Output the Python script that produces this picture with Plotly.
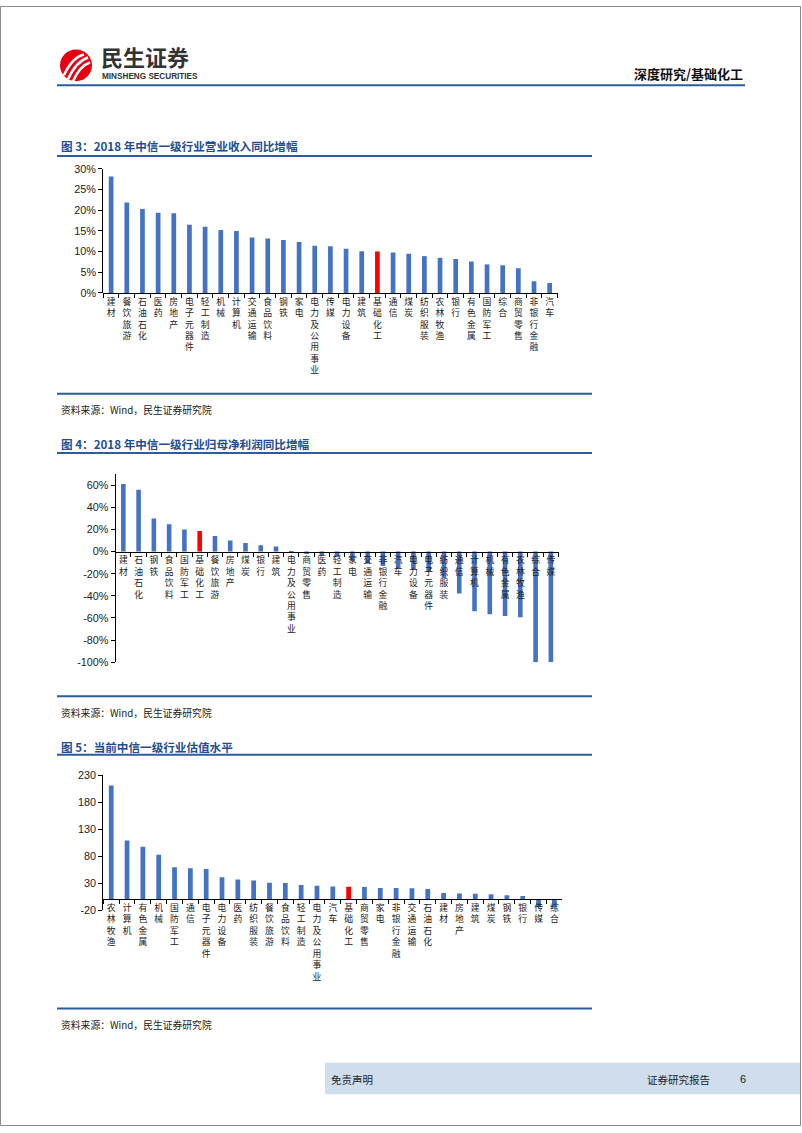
import plotly.graph_objects as go

# ---------------- data ----------------
cats1 = ["建材", "餐饮旅游", "石油石化", "医药", "房地产", "电子元器件", "轻工制造", "机械", "计算机",
         "交通运输", "食品饮料", "钢铁", "家电", "电力及公用事业", "传媒", "电力设备", "建筑", "基础化工",
         "通信", "煤炭", "纺织服装", "农林牧渔", "银行", "有色金属", "国防军工", "综合", "商贸零售",
         "非银行金融", "汽车"]
vals1 = [28.2, 21.9, 20.3, 19.4, 19.3, 16.5, 16.0, 15.2, 15.0, 13.4, 13.2, 12.8, 12.3, 11.4, 11.3,
         10.7, 10.1, 10.0, 9.8, 9.5, 8.9, 8.5, 8.2, 7.6, 6.9, 6.7, 6.0, 2.8, 2.4]

cats2 = ["建材", "石油石化", "钢铁", "食品饮料", "国防军工", "基础化工", "餐饮旅游", "房地产", "煤炭",
         "银行", "建筑", "电力及公用事业", "商贸零售", "医药", "轻工制造", "家电", "交通运输", "非银行金融",
         "汽车", "电力设备", "电子元器件", "纺织服装", "通信", "计算机", "机械", "有色金属", "农林牧渔",
         "综合", "传媒"]
vals2 = [61.0, 55.8, 29.9, 24.8, 20.0, 18.5, 14.0, 10.1, 7.8, 5.7, 4.5, -0.5, -2.1, -3.9, -4.8, -8.0,
         -11.0, -13.0, -15.0, -16.0, -18.0, -24.0, -37.9, -54.0, -56.7, -58.2, -59.4, -100.0, -100.0]

cats3 = ["农林牧渔", "计算机", "有色金属", "机械", "国防军工", "通信", "电子元器件", "电力设备", "医药",
         "纺织服装", "餐饮旅游", "食品饮料", "轻工制造", "电力及公用事业", "汽车", "基础化工", "商贸零售",
         "家电", "非银行金融", "交通运输", "石油石化", "建材", "房地产", "建筑", "煤炭", "钢铁", "银行",
         "传媒", "综合"]
vals3 = [210.9, 108.8, 97.2, 82.5, 59.3, 57.5, 56.2, 40.9, 36.7, 34.8, 30.6, 30.0, 26.3, 25.0, 23.8,
         23.2, 22.6, 20.9, 20.8, 20.2, 19.0, 11.6, 10.4, 10.3, 9.2, 7.3, 6.1, -15.0, -16.0]

highlight = "基础化工"

y1_ticks = [0, 5, 10, 15, 20, 25, 30]
y2_ticks = [-100, -80, -60, -40, -20, 0, 20, 40, 60]
y3_ticks = [-20, 30, 80, 130, 180, 230]

titles = ["图 3：2018 年中信一级行业营业收入同比增幅",
          "图 4：2018 年中信一级行业归母净利润同比增幅",
          "图 5：当前中信一级行业估值水平"]
source = "资料来源：Wind，民生证券研究院"

# ---------------- helpers ----------------
W, H = 802, 1133
def fx(x):
    return x / W
def fy(y):
    return 1 - y / H

BLUE = "#4472C4"
RED = "#FF0000"
LINE_BLUE = "#2F5C9E"
TITLE_BLUE = "#1F4E93"
CJK = "Noto Sans CJK SC"
NUM = "Liberation Sans, Arial, sans-serif"

def vlabel(s):
    return "<br>".join(list(s))

fig = go.Figure()

charts = [
    dict(cats=cats1, vals=vals1, ticks=y1_ticks, rng=[0, 30], suffix="%",
         xdom=(103.3, 557.5), ytop=164.7, ybot=290.0),
    dict(cats=cats2, vals=vals2, ticks=y2_ticks, rng=[-100, 70], suffix="%",
         xdom=(115.7, 558.5), ytop=473.1, ybot=663.3),
    dict(cats=cats3, vals=vals3, ticks=y3_ticks, rng=[-20, 230], suffix="",
         xdom=(103.3, 562.3), ytop=777.3, ybot=913.7),
]

layout_axes = {}
for i, c in enumerate(charts, start=1):
    sx = "" if i == 1 else str(i)
    colors = [RED if k == highlight else BLUE for k in c["cats"]]
    fig.add_trace(go.Bar(x=c["cats"], y=c["vals"], marker=dict(color=colors, line=dict(width=0)),
                         xaxis="x" + sx, yaxis="y" + sx, showlegend=False, hoverinfo="x+y"))
    ydom = [fy(c["ybot"]), fy(c["ytop"])]
    r0, r1 = c["rng"]
    pos0 = ydom[0] + (0 - r0) / (r1 - r0) * (ydom[1] - ydom[0])
    layout_axes["xaxis" + sx] = dict(
        domain=[fx(c["xdom"][0]), fx(c["xdom"][1])],
        anchor="free", position=pos0,
        type="category", categoryorder="array", categoryarray=c["cats"],
        tickmode="array", tickvals=c["cats"], ticktext=[vlabel(k) for k in c["cats"]],
        tickson="boundaries", ticks="outside", ticklen=4, tickwidth=1, tickcolor="#000",
        tickangle=0, tickfont=dict(family=CJK, size=8.8, color="#222"),
        showline=True, linecolor="#000", linewidth=1.3, showgrid=False, zeroline=False,
        fixedrange=True,
    )
    layout_axes["yaxis" + sx] = dict(
        domain=ydom, anchor="x" + sx, range=c["rng"],
        tickmode="array", tickvals=c["ticks"], ticktext=[f"{v}{c['suffix']}" for v in c["ticks"]],
        ticks="outside", ticklen=4, tickwidth=1, tickcolor="#000",
        tickfont=dict(family=NUM, size=10.8, color="#222"),
        showline=True, linecolor="#000", linewidth=1.3, showgrid=False, zeroline=False,
        fixedrange=True,
    )

shapes = []
annotations = []

# page border
shapes.append(dict(type="rect", xref="paper", yref="paper", x0=fx(0.5), x1=fx(800.5),
                   y0=fy(1131.5), y1=fy(0.5), line=dict(color="#8a8a8a", width=1), layer="below"))

# header
shapes.append(dict(type="line", xref="paper", yref="paper", x0=fx(57), x1=fx(745), y0=fy(80), y1=fy(80),
                   line=dict(color=LINE_BLUE, width=2)))
# logo circle
shapes.append(dict(type="circle", xref="paper", yref="paper", x0=fx(60), x1=fx(92), y0=fy(76), y1=fy(44),
                   fillcolor="#E60012", line=dict(width=0)))
for (a, b, cx, cy, d, e) in [(64, 70, 72, 52, 84, 49), (68, 74, 76, 56, 88, 52), (73, 76, 80, 60, 90, 57)]:
    path = f"M {fx(a)},{fy(b)} Q {fx(cx)},{fy(cy)} {fx(d)},{fy(e)}"
    shapes.append(dict(type="path", xref="paper", yref="paper", path=path,
                       line=dict(color="white", width=2.6)))
annotations.append(dict(text="<b>民生证券</b>", x=fx(98.5), y=fy(51), xref="paper", yref="paper",
                        xanchor="left", yanchor="middle", showarrow=False,
                        font=dict(family=CJK, size=22, color="#333333")))
annotations.append(dict(text="<b>MINSHENG SECURITIES</b>", x=fx(100), y=fy(71.5), xref="paper", yref="paper",
                        xanchor="left", yanchor="middle", showarrow=False,
                        font=dict(family="Liberation Sans, Arial", size=8.2, color="#333333")))
annotations.append(dict(text="<b>深度研究/基础化工</b>", x=fx(745), y=fy(68), xref="paper", yref="paper",
                        xanchor="right", yanchor="middle", showarrow=False,
                        font=dict(family=CJK, size=13, color="#111111")))

# chart frames (title, top line, bottom line, source)
frames = [(141, 151.7, 392, 408), (443, 451.7, 697.7, 714.5), (748.5, 756.7, 1013.3, 1030)]
for t, (ty, tl, bl, sy) in zip(titles, frames):
    annotations.append(dict(text="<b>" + t + "</b>", x=fx(59), y=fy(ty), xref="paper", yref="paper",
                            xanchor="left", yanchor="middle", showarrow=False,
                            font=dict(family=CJK, size=11.6, color=TITLE_BLUE)))
    shapes.append(dict(type="line", xref="paper", yref="paper", x0=fx(57), x1=fx(592), y0=fy(tl), y1=fy(tl),
                       line=dict(color=LINE_BLUE, width=2)))
    shapes.append(dict(type="line", xref="paper", yref="paper", x0=fx(57), x1=fx(592), y0=fy(bl), y1=fy(bl),
                       line=dict(color=LINE_BLUE, width=2)))
    annotations.append(dict(text=source, x=fx(59), y=fy(sy), xref="paper", yref="paper",
                            xanchor="left", yanchor="middle", showarrow=False,
                            font=dict(family=CJK, size=9.8, color="#222")))

# footer
shapes.append(dict(type="rect", xref="paper", yref="paper", x0=fx(325), x1=fx(800), y0=fy(1100), y1=fy(1068),
                   fillcolor="#CFDDEC", line=dict(width=0), layer="below"))
annotations.append(dict(text="免责声明", x=fx(329), y=fy(1084.5), xref="paper", yref="paper",
                        xanchor="left", yanchor="middle", showarrow=False,
                        font=dict(family=CJK, size=10.5, color="#222")))
annotations.append(dict(text="证券研究报告", x=fx(645), y=fy(1084.5), xref="paper", yref="paper",
                        xanchor="left", yanchor="middle", showarrow=False,
                        font=dict(family=CJK, size=10.5, color="#222")))
annotations.append(dict(text="6", x=fx(738), y=fy(1084.5), xref="paper", yref="paper",
                        xanchor="left", yanchor="middle", showarrow=False,
                        font=dict(family=NUM, size=11, color="#222")))

fig.update_layout(
    width=W, height=H, autosize=False,
    margin=dict(l=0, r=0, t=0, b=0, pad=0),
    paper_bgcolor="white", plot_bgcolor="rgba(0,0,0,0)",
    bargap=0.7, showlegend=False,
    shapes=shapes, annotations=annotations,
    **layout_axes,
)

fig.write_html(
    "out.html",
    config={"displayModeBar": False},
    post_script="document.body.style.margin='0';document.body.style.padding='0';"
                "document.body.style.overflow='hidden';document.documentElement.style.overflow='hidden';",
)
